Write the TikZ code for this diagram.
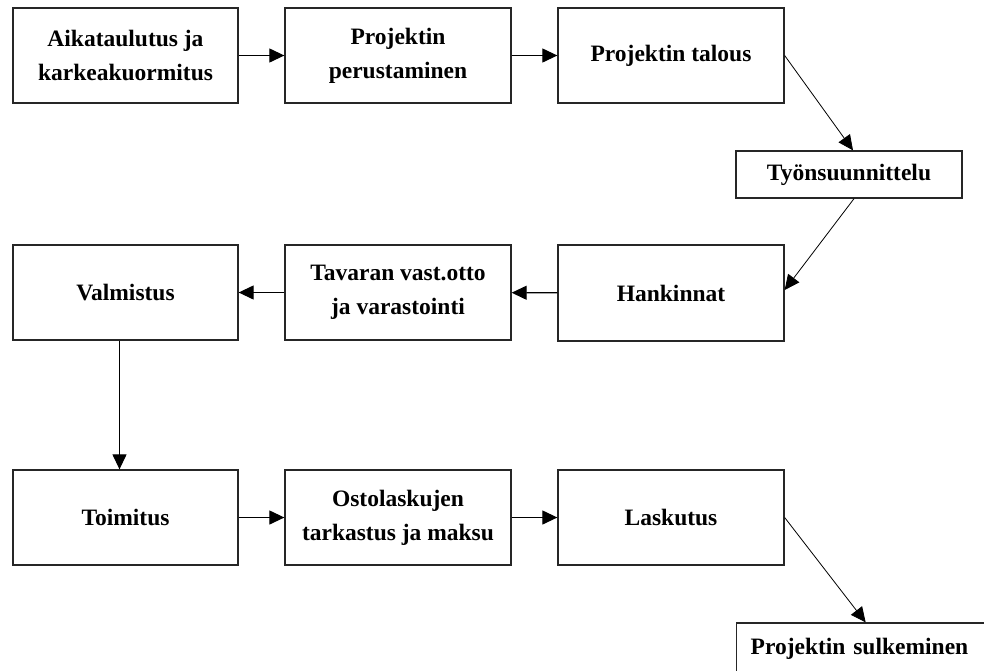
\documentclass[tikz,border=0pt]{standalone}
\usepackage{fontspec}
\setmainfont{Liberation Serif}
\usetikzlibrary{arrows.meta,calc}
\begin{document}
\begin{tikzpicture}[x=1pt,y=-1pt,
  box/.style={draw=black!85,line width=1.3pt,rectangle,inner sep=0pt,align=center,
    font=\fontsize{23.5}{34}\selectfont\bfseries},
  conn/.style={line width=1.2pt,-{Triangle[length=15pt,width=14pt]}},
  diag/.style={line width=0.8pt,-{Triangle[length=15pt,width=14pt]}}]
\useasboundingbox[fill=white] (0,0) rectangle (984,670);
\node[box,minimum width=225pt,minimum height=95pt] (b1) at (125.5,55.5) {Aikataulutus ja\\karkeakuormitus};
\node[box,minimum width=226pt,minimum height=95pt] (b2) at (398,55.5) {Projektin\\perustaminen};
\node[box,minimum width=226pt,minimum height=95pt] (b3) at (671,55.5) {Projektin talous};
\node[box,minimum width=226pt,minimum height=47pt] (b4) at (849,174.5) {Työnsuunnittelu};
\node[box,minimum width=226pt,minimum height=96pt] (b5) at (671,293) {Hankinnat};
\node[box,minimum width=226pt,minimum height=95pt] (b6) at (398,292.5) {Tavaran vast.otto\\ja varastointi};
\node[box,minimum width=225pt,minimum height=95pt] (b7) at (125.5,292.5) {Valmistus};
\node[box,minimum width=225pt,minimum height=95pt] (b8) at (125.5,517.5) {Toimitus};
\node[box,minimum width=226pt,minimum height=95pt] (b9) at (398,517.5) {Ostolaskujen\\tarkastus ja maksu};
\node[box,minimum width=226pt,minimum height=95pt] (b10) at (671,517.5) {Laskutus};
\node[box,anchor=west,text width=226pt,align=left,inner xsep=14pt,minimum height=52pt] (b11) at (736,649) {Projektin sulkeminen};
\draw[conn] (b1) -- (b2);
\draw[conn] (b2) -- (b3);
\draw[diag] (b3.east) -- ([xshift=4pt]b4.north);
\draw[diag] ([xshift=5pt]b4.south) -- ([yshift=3pt]b5.east);
\draw[conn] (b5) -- (b6);
\draw[conn] (b6) -- (b7);
\draw[conn] ([xshift=-6pt]b7.south) -- ([xshift=-6pt]b8.north);
\draw[conn] (b8) -- (b9);
\draw[conn] (b9) -- (b10);
\draw[diag] (b10.east) -- ([xshift=2pt]b11.north);
\end{tikzpicture}
\end{document}
